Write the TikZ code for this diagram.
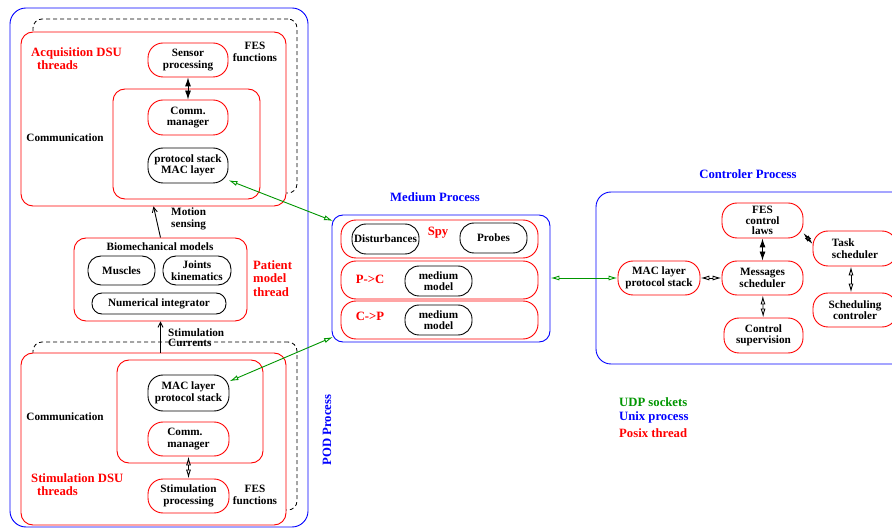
\documentclass[tikz,border=0pt]{standalone}
\usepackage{fontspec}
\setmainfont{Liberation Serif}
\usetikzlibrary{arrows.meta}
\definecolor{fgreen}{RGB}{0,150,0}
\begin{document}
\begin{tikzpicture}[x=1pt,y=-1pt,
  bk/.style={font=\fontsize{11.2}{11.6}\selectfont\bfseries, align=center, inner sep=0pt},
  lbl/.style={font=\fontsize{12.7}{13.5}\selectfont\bfseries, inner sep=0pt, align=left},
  pill/.style={draw=red, line width=0.9pt, rounded corners=15pt, fill=white, bk},
  bpill/.style={draw=black, line width=0.9pt, rounded corners=15pt, fill=white, bk},
  frame/.style={draw=red, line width=0.9pt, rounded corners=12pt, fill=white, inner sep=0pt},
  proc/.style={draw=blue, line width=0.9pt, rounded corners=15pt, inner sep=0pt},
  dashbox/.style={draw=black, line width=0.8pt, rounded corners=9pt, dash pattern=on 4pt off 3pt, inner sep=0pt},
  fdarr/.style={black, line width=0.9pt, {Latex[length=9pt,width=6pt]}-{Latex[length=9pt,width=6pt]}},
  odarr/.style={black, line width=0.9pt, {Latex[open,length=9pt,width=5pt]}-{Latex[open,length=9pt,width=5pt]}},
  udp/.style={fgreen, line width=0.9pt, {Latex[open,length=9pt,width=5pt]}-{Latex[open,length=9pt,width=5pt]}},
  uparr/.style={black, line width=0.9pt, -{Straight Barb[length=5pt,width=5pt]}}
]
\clip (0,0) rectangle (892,529);
\fill[white] (0,0) rectangle (892,529);

% ---------------- POD process ----------------
\node[proc, minimum width=298pt, minimum height=519pt, rounded corners=16pt] (pod) at (159,267.5) {};
\node[lbl, blue, rotate=90] (podlbl) at (327,430) {POD Process};

% Acquisition DSU
\node[dashbox, minimum width=264pt, minimum height=174pt] (dash1) at (165,106) {};
\node[frame, minimum width=265pt, minimum height=174pt] (acq) at (153.5,119) {};
\node[lbl, red, anchor=west] (acqlbl1) at (31,53) {Acquisition DSU};
\node[lbl, red, anchor=west] (acqlbl2) at (37,65) {threads};
\node[pill, minimum width=80pt, minimum height=34pt] (sensor) at (188,60) {Sensor\\processing};
\node[bk] (fes1) at (255,52) {FES\\functions};
\node[frame, minimum width=147pt, minimum height=110pt] (comm1) at (186.5,144) {};
\node[bk] (commlbl1) at (65,138) {Communication};
\node[pill, minimum width=80pt, minimum height=35pt] (cmgr1) at (188,117.5) {Comm.\\manager};
\node[bpill, minimum width=80pt, minimum height=35pt] (proto1) at (188,165.5) {protocol stack\\MAC layer};
\draw[fdarr] (sensor) -- (cmgr1);

% Patient model
\node[frame, minimum width=173pt, minimum height=83pt] (patient) at (160.5,279.5) {};
\node[bk] (biolbl) at (160,247) {Biomechanical models};
\node[bpill, minimum width=67pt, minimum height=29pt, rounded corners=13pt] (muscles) at (121.5,270.5) {Muscles};
\node[bpill, minimum width=68pt, minimum height=29pt, rounded corners=13pt] (joints) at (197,270.5) {Joints\\kinematics};
\node[bpill, minimum width=134pt, minimum height=21pt, rounded corners=10pt] (numint) at (159,303.5) {Numerical integrator};
\node[lbl, red, anchor=west, font=\fontsize{12.7}{13.6}\selectfont\bfseries] (patlbl) at (253,278.5) {Patient\\model\\thread};

\draw[uparr] (patient.north) -- (acq.south);
\node[bk, anchor=west, align=left] (motion) at (171,219) {Motion\\sensing};

% Stimulation DSU
\node[dashbox, minimum width=264pt, minimum height=168pt] (dash2) at (165,426) {};
\node[frame, minimum width=265pt, minimum height=172pt] (stim) at (153.5,439) {};
\draw[uparr] (patient.south |- stim.north) -- (patient.south);
\node[bk, anchor=west] (stimlbl1) at (168,333) {Stimulation};
\node[bk, anchor=west] (stimlbl2) at (168,343) {Currents};
\node[frame, minimum width=146pt, minimum height=103pt] (comm2) at (190,411.5) {};
\node[bk] (commlbl2) at (65,417) {Communication};
\node[bpill, minimum width=81pt, minimum height=36pt] (proto2) at (188.5,393) {MAC layer\\protocol stack};
\node[pill, minimum width=81pt, minimum height=34pt, align=left] (cmgr2) at (188.5,439) {Comm.\\manager};
\node[pill, minimum width=81pt, minimum height=34pt] (stimproc) at (188.5,496) {Stimulation\\processing};
\node[bk] (fes2) at (255,495) {FES\\functions};
\node[lbl, red, anchor=west] (stimdsu1) at (31,478) {Stimulation DSU};
\node[lbl, red, anchor=west] (stimdsu2) at (37,491) {threads};
\draw[odarr] (cmgr2) -- (stimproc);

% ---------------- Medium process ----------------
\node[lbl, blue] (medlbl) at (435,197) {Medium Process};
\node[proc, minimum width=218pt, minimum height=127pt, rounded corners=11pt] (medium) at (441,278.5) {};
\node[frame, minimum width=197pt, minimum height=38pt, rounded corners=15pt] (spyrow) at (439.5,239) {};
\node[frame, minimum width=197pt, minimum height=38pt, rounded corners=15pt] (pcrow) at (439.5,280) {};
\node[frame, minimum width=197pt, minimum height=38pt, rounded corners=15pt] (cprow) at (439.5,320) {};
\node[bpill, minimum width=67pt, minimum height=30pt, rounded corners=14pt] (dist) at (385.5,239) {Disturbances};
\node[lbl, red] (spylbl) at (438,233) {Spy};
\node[bpill, minimum width=67pt, minimum height=30pt, rounded corners=14pt] (probes) at (493.5,238) {Probes};
\node[lbl, red] (pclbl) at (370,279) {P-{}>C};
\node[bpill, minimum width=67pt, minimum height=30pt, rounded corners=14pt] (mm1) at (438.5,281) {medium\\model};
\node[lbl, red] (cplbl) at (370,316) {C-{}>P};
\node[bpill, minimum width=67pt, minimum height=30pt, rounded corners=14pt] (mm2) at (438.5,320) {medium\\model};

\coordinate (m1) at (333,221);
\coordinate (m2) at (333,337);
\draw[udp] (proto1.-20) -- (m1);
\draw[udp] (proto2.16) -- (m2);

% ---------------- Controller process ----------------
\node[lbl, blue] (ctrllbl) at (748,174) {Controler Process};
\node[proc, minimum width=324pt, minimum height=172pt] (ctrl) at (758,278) {};
\node[pill, minimum width=82pt, minimum height=34pt] (cmac) at (659,278) {MAC layer\\protocol stack};
\node[pill, minimum width=81pt, minimum height=34pt] (msg) at (762.5,278) {Messages\\scheduler};
\node[pill, minimum width=81pt, minimum height=35pt, font=\fontsize{11.2}{10.8}\selectfont\bfseries] (fesctl) at (762.5,220.5) {FES\\control\\laws};
\node[pill, minimum width=79pt, minimum height=35pt] (ctrlsup) at (763.5,335.5) {Control\\supervision};
\node[pill, minimum width=84pt, minimum height=35pt, align=left] (task) at (855,248.5) {Task\\scheduler};
\node[pill, minimum width=84pt, minimum height=34pt] (schedc) at (855,310) {Scheduling\\controler};

\draw[udp] (cmac.west -| medium.east) -- (cmac.west);
\draw[odarr] (cmac) -- (msg);
\draw[fdarr] (fesctl) -- (msg);
\draw[odarr] (msg) -- (ctrlsup);
\draw[odarr] (fesctl.-17) -- (task.174);
\draw[odarr] (task.south -| 851,0) -- (schedc.north -| 851,0);

% ---------------- Legend ----------------
\node[lbl, fgreen, anchor=west] (leg1) at (619,402) {UDP sockets};
\node[lbl, blue, anchor=west] (leg2) at (619,417) {Unix process};
\node[lbl, red, anchor=west] (leg3) at (619,433) {Posix thread};
\end{tikzpicture}
\end{document}
